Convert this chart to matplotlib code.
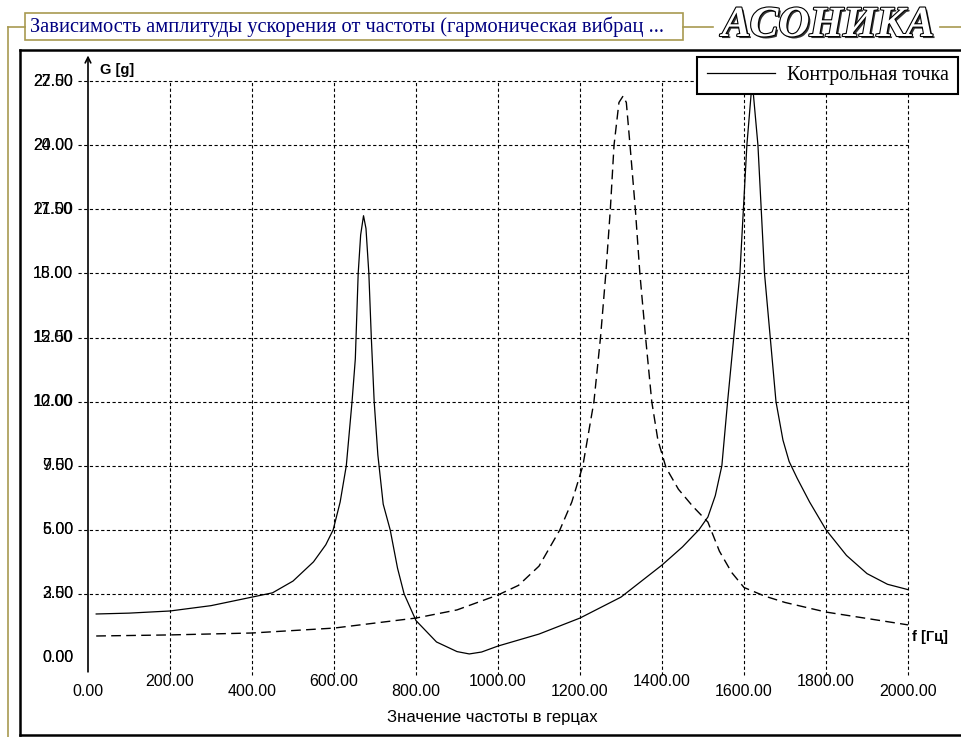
import matplotlib
matplotlib.use("Agg")
import matplotlib.pyplot as plt
import matplotlib.patheffects as pe
from matplotlib.patches import Rectangle
from matplotlib.lines import Line2D

# контрольная точка (сплошная линия)
f_solid = [20, 100, 200, 300, 400, 450, 500, 550, 580, 598, 615, 630, 644, 652, 659, 665,
           672, 678, 685, 691, 698, 707, 720, 737, 755, 771, 800, 850, 900, 930, 960, 1000,
           1100, 1200, 1300, 1400, 1450, 1490, 1512, 1530, 1546, 1560, 1590, 1607, 1620, 1634,
           1650, 1678, 1695, 1710, 1730, 1760, 1800, 1850, 1900, 1950, 2000]
g_solid = [2.06, 2.1, 2.2, 2.45, 2.85, 3.05, 3.6, 4.5, 5.3, 6.0, 7.3, 9.0, 12.0, 14.0, 18.0,
           19.8, 20.7, 20.1, 18.0, 15.0, 12.0, 9.5, 7.2, 6.0, 4.2, 3.0, 1.75, 0.75, 0.3, 0.19,
           0.28, 0.56, 1.12, 1.87, 2.85, 4.35, 5.2, 6.0, 6.6, 7.6, 9.0, 12.0, 18.0, 24.0, 27.0,
           24.0, 18.0, 12.0, 10.2, 9.2, 8.4, 7.3, 6.0, 4.8, 3.95, 3.45, 3.2]

# вторая кривая (штриховая)
f_dash = [20, 200, 400, 600, 800, 900, 1000, 1050, 1100, 1151, 1180, 1207, 1234, 1250, 1263,
          1274, 1283, 1295, 1305, 1313, 1322, 1335, 1346, 1360, 1375, 1390, 1410, 1440, 1475,
          1512, 1540, 1570, 1600, 1650, 1700, 1800, 1900, 2000]
g_dash = [1.03, 1.08, 1.17, 1.4, 1.87, 2.25, 2.95, 3.4, 4.3, 6.0, 7.3, 9.0, 12.0, 15.0, 18.0,
          21.0, 24.0, 26.0, 26.3, 26.0, 24.0, 21.0, 18.0, 15.0, 12.0, 10.2, 8.9, 7.9, 7.1,
          6.36, 5.0, 4.0, 3.3, 2.9, 2.6, 2.15, 1.85, 1.55]

x_ticks = [0, 200, 400, 600, 800, 1000, 1200, 1400, 1600, 1800, 2000]
y_ticks = [0, 3, 6, 9, 12, 15, 18, 21, 24, 27]
y_labels_a = ["0.00", "3.00", "6.00", "9.00", "12.00", "15.00", "18.00", "21.00", "24.00", "27.00"]
y_labels_b = ["0.00", "2.50", "5.00", "7.50", "10.00", "12.50", "15.00", "17.50", "20.00", "22.50"]

W, H = 962, 737
olive = "#a89a50"
tick_font = "Liberation Sans"

fig = plt.figure(figsize=(W / 100, H / 100), dpi=100)

# рамка окна
fig.add_artist(Line2D([8 / W, 8 / W], [0, 1 - 27 / H], color=olive, lw=1.2))
fig.add_artist(Line2D([8 / W, 25 / W], [1 - 27 / H, 1 - 27 / H], color=olive, lw=1.2))
fig.add_artist(Line2D([683 / W, 713 / W], [1 - 27 / H, 1 - 27 / H], color=olive, lw=1.2))
fig.add_artist(Line2D([940 / W, 1], [1 - 27 / H, 1 - 27 / H], color=olive, lw=1.2))
fig.add_artist(Rectangle((25 / W, 1 - 40 / H), 658 / W, 27 / H, transform=fig.transFigure,
                         fill=False, edgecolor=olive, lw=1.2))
fig.text(30 / W, 1 - 27 / H, "Зависимость амплитуды ускорения от частоты (гармоническая вибрац ...",
         family="Liberation Serif", fontsize=14.8, color="#000080", va="center", ha="left")
fig.text(828 / W, 1 - 26 / H, "АСОНИКА", family="Liberation Serif", fontsize=31,
         weight="bold", style="italic", color="white", ha="center", va="center",
         path_effects=[pe.withSimplePatchShadow(offset=(1.5, -1.5), shadow_rgbFace="black", alpha=0.8),
                       pe.Stroke(linewidth=1.6, foreground="black"), pe.Normal()])

# панель графика
ax = fig.add_axes([20 / W, 2 / H, 942 / W, 685 / H])
px_f = 0.41
px_g = 64.1 / 3
ax.set_xlim((20 - 88) / px_f, (962 - 88) / px_f)
ax.set_ylim((658 - 735) / px_g, (658 - 50) / px_g)
ax.set_xticks([])
ax.set_yticks([])
for s in ax.spines.values():
    s.set_linewidth(1.8)
    s.set_color("black")

grid_dash = (0, (2.9, 2.2))
ax.vlines(x_ticks[1:], -0.8, 27, colors="black", linewidth=0.8, linestyles=[grid_dash])
ax.hlines(y_ticks[1:], -24, 2000, colors="black", linewidth=0.8, linestyles=[grid_dash])

# оси со стрелками
ax.annotate("", xy=(2135, 0), xytext=(-32, 0),
            arrowprops=dict(arrowstyle="->", lw=1.2, color="black", shrinkA=0, shrinkB=0))
ax.annotate("", xy=(0, 28.2), xytext=(0, -0.65),
            arrowprops=dict(arrowstyle="->", lw=1.2, color="black", shrinkA=0, shrinkB=0))

ax.plot(f_solid, g_solid, color="black", lw=0.9, label="Контрольная точка")
ax.plot(f_dash, g_dash, color="black", lw=1.0, linestyle=(0, (7, 3.8)))

for i, x in enumerate(x_ticks):
    y = -1.55 if i % 2 == 0 else -1.1
    ax.text(x, y, f"{x:.2f}", family=tick_font, fontsize=11.5, ha="center", va="center")
for y, la, lb in zip(y_ticks, y_labels_a, y_labels_b):
    ax.text(-36, y, la, family=tick_font, fontsize=11.5, ha="right", va="center")
    ax.text(-36, y, lb, family=tick_font, fontsize=11.5, ha="right", va="center")

ax.text(985, -2.8, "Значение частоты в герцах", family=tick_font, fontsize=12,
        ha="center", va="center")
ax.text(30, 27.5, "G [g]", family="Liberation Sans", fontsize=10.5, weight="bold",
        ha="left", va="center")
ax.text(2010, 1.0, "f [Гц]", family="Liberation Sans", fontsize=10.5, weight="bold",
        ha="left", va="center")

leg = ax.legend(loc="upper right", bbox_to_anchor=(958 / W, 1 - 57 / H),
                bbox_transform=fig.transFigure, frameon=True, fancybox=False, framealpha=1,
                prop={"family": "Liberation Serif", "size": 14.5}, handlelength=3.4,
                borderpad=0.45, borderaxespad=0, handletextpad=0.6)
leg.get_frame().set_edgecolor("black")
leg.get_frame().set_linewidth(1.5)

fig.savefig("out.png", dpi=100)
